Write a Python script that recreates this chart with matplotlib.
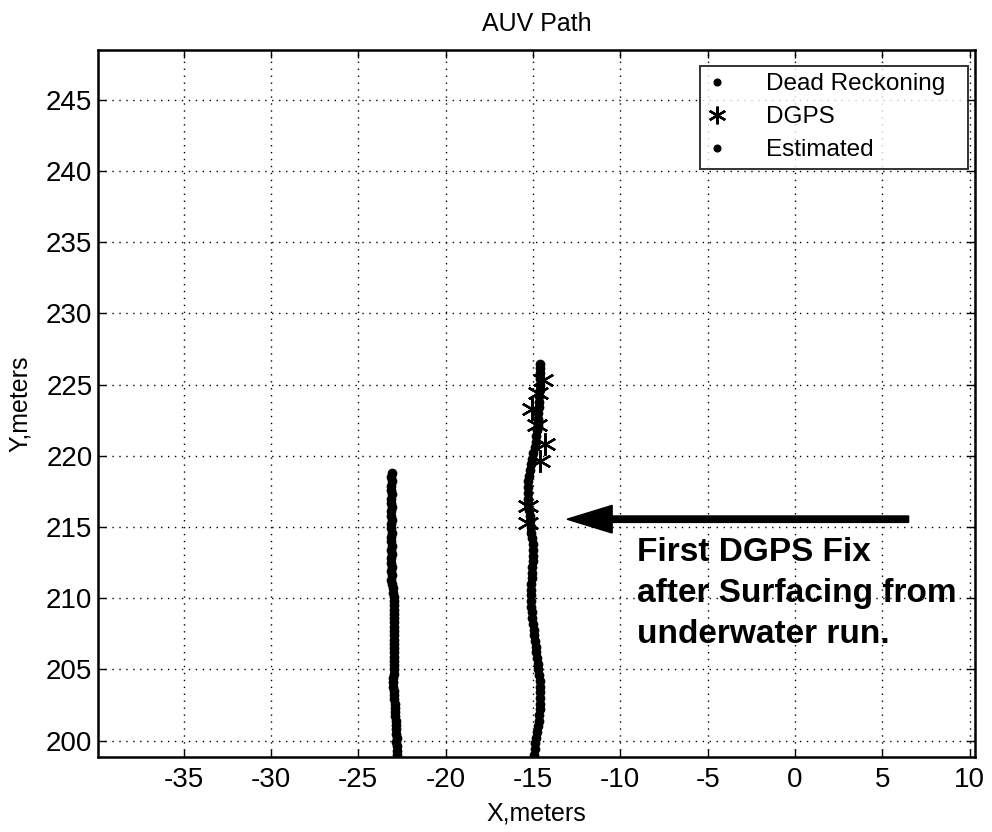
import matplotlib
matplotlib.use("Agg")
import matplotlib.pyplot as plt

plt.rcParams['font.family'] = ['Liberation Sans', 'DejaVu Sans']
plt.rcParams['axes.unicode_minus'] = False

# ---- data ----
dr_y = [218.8, 218.5, 218.2, 217.9, 217.6, 217.3, 217.0, 216.7, 216.4, 216.1,
        215.8, 215.5, 215.2, 214.9, 214.6, 214.3, 214.0, 213.7, 213.4, 213.1,
        212.8, 212.5, 212.2, 211.9, 211.6, 211.3, 211.0, 210.7, 210.4, 210.1,
        209.8, 209.5, 209.2, 208.9, 208.6, 208.3, 208.0, 207.7, 207.4, 207.1,
        206.8, 206.5, 206.2, 205.9, 205.6, 205.3, 205.0, 204.7, 204.4, 204.1,
        203.8, 203.5, 203.2, 202.9, 202.6, 202.3, 202.0, 201.7, 201.4, 201.1,
        200.8, 200.5, 200.2, 199.9, 199.6, 199.3, 199.0]
dr_x = [-23.05, -23.10, -23.08, -23.12, -23.10, -23.06, -23.10, -23.13, -23.09, -23.10,
        -23.12, -23.08, -23.10, -23.11, -23.08, -23.10, -23.12, -23.09, -23.10, -23.07,
        -23.10, -23.12, -23.09, -23.10, -23.08, -23.10, -23.06, -23.04, -23.00, -22.97,
        -22.95, -22.94, -22.96, -22.95, -22.93, -22.95, -22.96, -22.94, -22.95, -22.93,
        -22.95, -22.96, -22.94, -22.95, -22.93, -22.95, -22.96, -22.98, -23.00, -23.02,
        -23.00, -22.97, -22.95, -22.93, -22.92, -22.90, -22.90, -22.88, -22.87, -22.85,
        -22.84, -22.83, -22.80, -22.82, -22.78, -22.80, -22.76]

est_y = [199.0, 199.4, 199.8, 200.2, 200.6, 201.0, 201.4, 201.8, 202.2, 202.6,
         203.0, 203.4, 203.8, 204.2, 204.6, 205.0, 205.4, 205.8, 206.2, 206.6,
         207.0, 207.4, 207.8, 208.2, 208.6, 209.0, 209.4, 209.8, 210.2, 210.6,
         211.0, 211.4, 211.8, 212.2, 212.6, 213.0, 213.4, 213.8, 214.2, 214.6,
         215.0, 215.4, 215.8, 216.2, 216.6, 217.0, 217.4, 217.8, 218.2, 218.6,
         219.0, 219.4, 219.8, 220.2, 220.6, 221.0, 221.4, 221.8, 222.2, 222.6,
         223.0, 223.4, 223.8, 224.2, 224.6, 225.0, 225.4, 225.8, 226.2, 226.45]
est_x = [-14.92, -14.88, -14.86, -14.82, -14.78, -14.72, -14.68, -14.64, -14.62, -14.60,
         -14.58, -14.60, -14.59, -14.62, -14.65, -14.70, -14.73, -14.77, -14.80, -14.85,
         -14.89, -14.93, -14.97, -15.00, -15.04, -15.08, -15.10, -15.12, -15.13, -15.12,
         -15.10, -15.08, -15.06, -15.03, -15.00, -14.98, -14.98, -15.00, -15.05, -15.10,
         -15.14, -15.17, -15.20, -15.23, -15.26, -15.27, -15.28, -15.27, -15.27, -15.25,
         -15.20, -15.13, -15.07, -14.98, -14.90, -14.85, -14.80, -14.77, -14.74, -14.71,
         -14.69, -14.67, -14.65, -14.64, -14.62, -14.60, -14.60, -14.60, -14.60, -14.58]

dgps_x = [-14.43, -14.71, -15.06, -14.77, -14.31, -14.60, -15.29, -15.29]
dgps_y = [225.35, 224.4, 223.3, 222.2, 220.8, 219.65, 216.5, 215.3]

xticks = [-35, -30, -25, -20, -15, -10, -5, 0, 5, 10]
yticks = [200, 205, 210, 215, 220, 225, 230, 235, 240, 245]

# ---- figure ----
fig = plt.figure(figsize=(9.92, 8.32), dpi=100)
ax = fig.add_axes([98/992, 1-757/832, (975-98)/992, (757-50)/832])

ax.plot(dr_x, dr_y, linestyle='none', marker='.', markersize=12, color='k',
        label='Dead Reckoning')
ax.plot(dgps_x, dgps_y, linestyle='none', marker=(6, 2, 0), markersize=16,
        markeredgewidth=1.7, color='k', label='DGPS')
ax.plot(est_x, est_y, linestyle='none', marker='.', markersize=12, color='k',
        label='Estimated')

ax.set_xlim(-39.9, 10.3)
ax.set_ylim(198.85, 248.5)
ax.set_xticks(xticks)
ax.set_yticks(yticks)
ax.tick_params(direction='in', length=6, width=1, top=True, right=True,
               labelsize=20)
ax.tick_params(axis='x', pad=7)
ax.tick_params(axis='y', pad=4)
ax.grid(True, linestyle=(0, (1, 4)), color='k', linewidth=1)
for s in ax.spines.values():
    s.set_linewidth(1.8)

ax.set_title('AUV Path', fontsize=18, pad=14)
ax.set_xlabel('X,meters', fontsize=18, labelpad=6)
ax.set_ylabel('Y,meters', fontsize=18, labelpad=10)

leg = ax.legend(loc='upper left', bbox_to_anchor=(700/992, 1-160/832, 268/992, 94/832),
                bbox_transform=fig.transFigure, borderaxespad=0, mode='expand',
                fontsize=17.5, frameon=True, fancybox=False, edgecolor='k',
                handlelength=0.8, handletextpad=1.6, labelspacing=0.45,
                borderpad=0.3, markerscale=0.8)
leg.get_frame().set_linewidth(1.4)

ax.arrow(6.5, 215.55, -19.55, 0, width=0.45, head_width=1.94, head_length=2.58,
         length_includes_head=True, color='k')
ax.text(-9.04, 214.33, 'First DGPS Fix\nafter Surfacing from\nunderwater run.',
        fontsize=24, fontweight='bold', ha='left', va='top', linespacing=1.42)

fig.savefig('out.png', dpi=100)
